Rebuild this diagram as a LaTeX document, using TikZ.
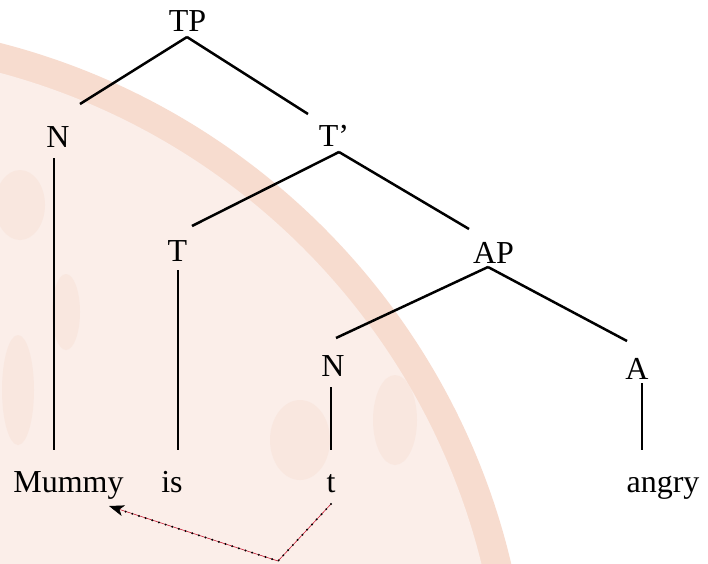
\documentclass[tikz,border=0pt]{standalone}
\usepackage{fontspec}
\setmainfont{Liberation Serif}
\usetikzlibrary{calc,arrows.meta}
\definecolor{sealband}{RGB}{247,220,207}
\definecolor{sealfill}{RGB}{251,238,233}
\definecolor{sealspot}{RGB}{247,222,210}
\definecolor{tracered}{RGB}{196,28,52}
\tikzset{
  lab/.style={inner sep=0pt, anchor=base, font=\fontsize{32}{36}\selectfont},
  branch/.style={line width=2.5pt, line cap=butt},
  traceline/.style={tracered, line width=0.6pt},
  tracedots/.style={black, line width=2.2pt, line cap=round, dash pattern=on 0pt off 7pt},
}
\begin{document}
\begin{tikzpicture}[x=1pt,y=-1pt]
\useasboundingbox (0,0) rectangle (708,563);

% faint seal in the background
\begin{scope}
  \clip (0,0) rectangle (708,563);
  \fill[sealband] (-175,726) circle[radius=705pt];
  \fill[sealfill] (-175,726) circle[radius=676pt];
  \begin{scope}[opacity=0.4]
    \fill[sealspot] (66,312) ellipse[x radius=14pt, y radius=38pt];
    \fill[sealspot] (18,390) ellipse[x radius=16pt, y radius=55pt];
    \fill[sealspot] (20,205) ellipse[x radius=25pt, y radius=35pt];
    \fill[sealspot] (300,440) ellipse[x radius=30pt, y radius=40pt];
    \fill[sealspot] (395,420) ellipse[x radius=22pt, y radius=45pt];
  \end{scope}
\end{scope}

% labels
\node[lab] (TP)    at (187.5,31) {TP};
\node[lab] (N1)    at (58,147)   {N};
\node[lab] (Tbar)  at (334,146)  {T'};
\node[lab] (T)     at (177.5,261) {T};
\node[lab] (AP)    at (493.5,263) {AP};
\node[lab] (N2)    at (333,376)  {N};
\node[lab] (A)     at (637,379)  {A};
\node[lab] (Mummy) at (68.5,492) {Mummy};
\node[lab] (is)    at (172,492)  {is};
\node[lab] (t)     at (331,492)  {t};
\node[lab] (angry) at (663,492)  {angry};

% branches
\draw[branch] ($(TP.base)+(-0.5,6)$) -- ($(N1.base)+(22,-43)$);
\draw[branch] ($(TP.base)+(-0.5,6)$) -- ($(Tbar.base)+(-26,-32)$);
\draw[branch] ($(Tbar.base)+(5,6)$) -- ($(T.base)+(14.5,-35)$);
\draw[branch] ($(Tbar.base)+(5,6)$) -- ($(AP.base)+(-24.5,-34)$);
\draw[branch] ($(AP.base)+(-5.5,4)$) -- ($(N2.base)+(3,-38)$);
\draw[branch] ($(AP.base)+(-5.5,4)$) -- ($(A.base)+(-10,-38)$);
\draw[branch] ($(N1.base)+(-4,11)$) -- ($(Mummy.base)+(-14.5,-42)$);
\draw[branch] ($(T.base)+(0.5,9)$) -- ($(is.base)+(6,-42)$);
\draw[branch] ($(N2.base)+(-2,11)$) -- ($(t.base)+(0,-42)$);
\draw[branch] ($(A.base)+(5,4)$) -- ($(angry.base)+(-21,-42)$);

% movement trace from t back to Mummy
\coordinate (bend) at (278,561);
\draw[traceline, -{Stealth[length=15pt, width=11pt, inset=4pt, black]}]
  ($(t.base)+(0,12)$) -- (bend) -- ($(Mummy.base)+(40.5,14)$);
\draw[tracedots] ($(t.base)+(0,12)$) -- (bend) -- ($(Mummy.base)+(52,18)$);
\end{tikzpicture}
\end{document}
